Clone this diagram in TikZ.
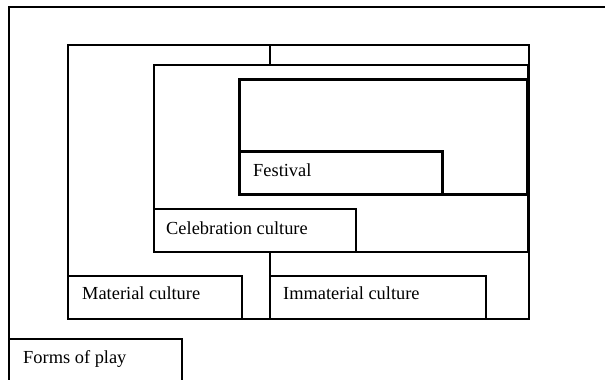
\documentclass[tikz,border=0pt]{standalone}
\usepackage{fontspec}
\setmainfont{Liberation Serif}
\usetikzlibrary{calc}
\begin{document}
\begin{tikzpicture}[x=1pt,y=-1pt,
  box/.style={draw=black, rectangle, inner sep=0pt, outer sep=0pt, anchor=north west},
  thinb/.style={box, line width=1.5pt},
  midb/.style={box, line width=2pt},
  thickb/.style={box, line width=3pt},
  txt/.style={anchor=base west, inner sep=0pt, font=\fontsize{18.4}{22}\selectfont}]
\useasboundingbox (0,0) rectangle (605,380);
% outer frame
\coordinate (fbl) at (9,390);
\coordinate (ftl) at (9,7);
\coordinate (ftr) at (615,7);
\draw[line width=1.6pt] (fbl) -- (ftl) -- (ftr);
% culture frame
\node[thinb, minimum width=461pt, minimum height=274pt] (cult) at (68,45) {};
% celebration frame
\node[midb, minimum width=374pt, minimum height=187pt] (celf) at (154,65) {};
% festival frame
\node[thickb, minimum width=288pt, minimum height=115pt] (festf) at (239,79) {};
% label boxes
\node[thickb, minimum width=203pt, minimum height=43pt] (fest) at (239,151) {};
\node[midb, minimum width=202pt, minimum height=43pt] (cel) at (154,209) {};
\node[thinb, minimum width=174pt, minimum height=43pt] (mat) at (68,276) {};
\node[thinb, minimum width=216pt, minimum height=43pt] (imm) at (270,276) {};
\node[thinb, minimum width=173pt, minimum height=60pt] (play) at (9,339) {};
% dividers
\draw[line width=1.6pt] (cult.north -| imm.west) -- (celf.north -| imm.west);
\draw[line width=1.6pt] (celf.south -| imm.west) -- (imm.north west);
% texts
\node[txt] (tfest) at ($(fest.north west)+(14,25)$) {Festival};
\node[txt] (tcel) at ($(cel.north west)+(12,25)$) {Celebration culture};
\node[txt] (tmat) at ($(mat.north west)+(14,23)$) {Material culture};
\node[txt] (timm) at ($(imm.north west)+(13,23)$) {Immaterial culture};
\node[txt] (tplay) at ($(play.north west)+(14,24)$) {Forms of play};
\end{tikzpicture}
\end{document}
